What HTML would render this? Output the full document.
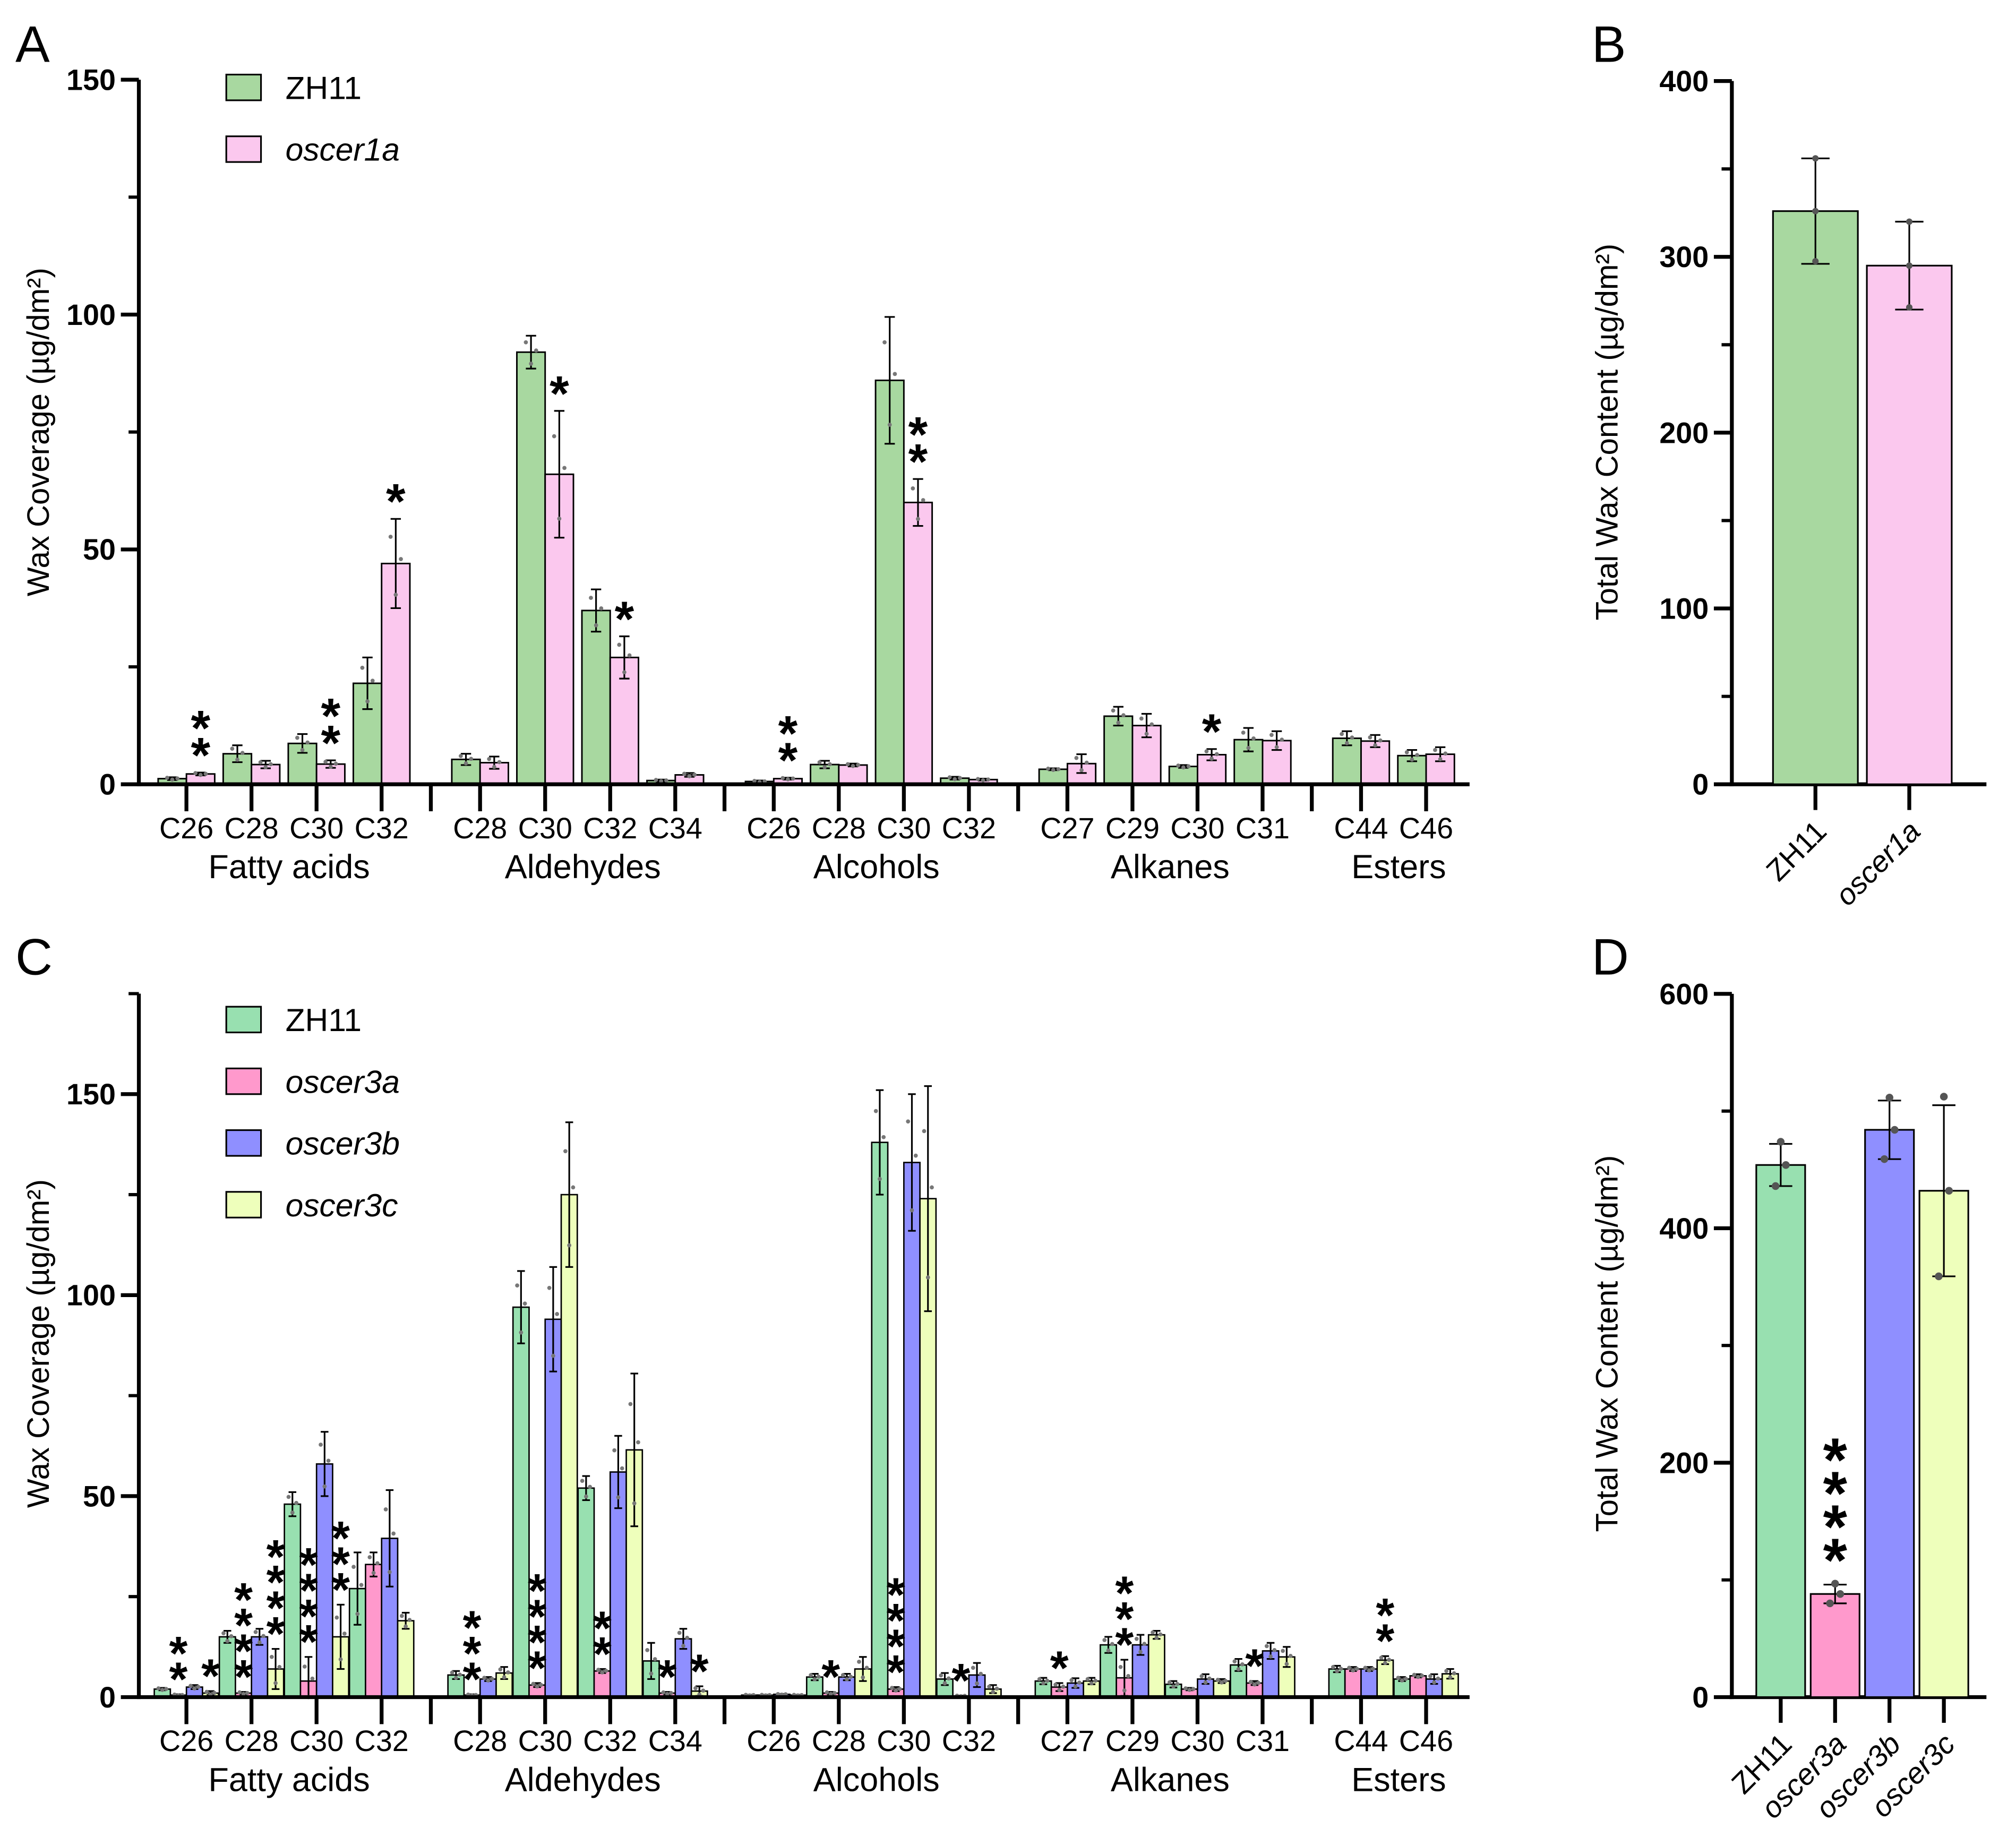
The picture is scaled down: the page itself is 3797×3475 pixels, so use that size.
<!DOCTYPE html>
<html><head><meta charset="utf-8"><style>
html,body{margin:0;padding:0;background:#fff}
svg{display:block}
text{font-family:"Liberation Sans",Arial,sans-serif;fill:#000}
</style></head><body>
<svg id="fig" width="3797" height="3475" viewBox="0 0 1568 1435" xmlns="http://www.w3.org/2000/svg">
<g id="root"></g>
</svg>
<script>
// ===== Data =====
const categories = ["C26","C28","C30","C32","C28","C30","C32","C34","C26","C28","C30","C32","C27","C29","C30","C31","C44","C46"];
const groupOf = [0,0,0,0,1,1,1,1,2,2,2,2,3,3,3,3,4,4];
const groupNames = ["Fatty acids","Aldehydes","Alcohols","Alkanes","Esters"];
// Panel A
const aZH11 = [1.2,6.5,8.7,21.5,5.3,92,37,0.8,0.6,4.2,86,1.3,3.2,14.5,3.8,9.5,9.8,6.1];
const aOscer1a = [2.2,4.2,4.3,47,4.6,66,27,2,1.2,4.1,60,1.0,4.4,12.5,6.3,9.3,9.2,6.4];
const aZH11Err = [0.3,1.8,2,5.5,1.2,3.5,4.5,0.2,0.2,0.8,13.5,0.3,0.2,2,0.3,2.5,1.5,1.2];
const aOscer1aErr = [0.3,0.8,0.8,9.5,1.3,13.5,4.5,0.4,0.2,0.3,5,0.2,2,2.5,1.2,2,1.3,1.5];
const aStarsPink = [2,0,2,1,0,1,1,0,2,0,2,0,0,0,1,0,0,0];
// Panel B
const bLabels = ["ZH11","oscer1a"];
const bValues = [326,295];
const bErr = [30,25];
// Panel C
const cZH11 = [2,15,48,27,5.5,97,52,9,0.5,5,138,4.5,4,13,3.2,8,7,4.5];
const cOscer3a = [0.5,1,4,33,0.5,3,6.5,1,0.5,1,2,0.3,2.5,4.8,2,3.5,7,5.3];
const cOscer3b = [2.5,15,58,39.5,4.5,94,56,14.5,0.7,5,133,5.5,3.5,13,4.5,11.5,7,4.5];
const cOscer3c = [1,7,15,19,6,125,61.5,1.5,0.5,7,124,2,4,15.5,4,10,9.2,5.8];
const cZH11Err = [0.3,1.5,3,9,1,9,3,4.5,0.1,0.8,13,1.5,0.8,2,0.8,1.5,0.8,0.5];
const cOscer3aErr = [0.2,0.3,6,3,0.2,0.5,0.5,0.3,0.1,0.3,0.5,0.1,1,4.5,0.3,0.5,0.5,0.4];
const cOscer3bErr = [0.5,2,8,12,0.5,13,9,2.5,0.1,0.8,17,3,1.2,2.5,1.2,2,0.5,1.2];
const cOscer3cErr = [0.5,5,8,2,1.5,18,19,1.2,0.1,3,28,1,0.8,1,0.5,2.5,1,1.2];
const cStarsPink = [2,4,4,0,3,4,2,1,0,1,4,1,1,3,0,1,0,0];
const cStarsYellow = [1,4,3,0,0,0,0,1,0,0,0,0,0,0,0,0,2,0];
// Panel D
const dLabels = ["ZH11","oscer3a","oscer3b","oscer3c"];
const dValues = [454,88,484,432];
const dErr = [18,8,25,73];
const dStars = [0,4,0,0];

// ===== helpers =====
const NS="http://www.w3.org/2000/svg";
const root=document.getElementById('root');
function el(tag,attrs,parent,txt){const e=document.createElementNS(NS,tag);for(const k in attrs)e.setAttribute(k,attrs[k]);if(txt!==undefined)e.textContent=txt;(parent||root).appendChild(e);return e;}
function grp(name){const g=el('g',{});


return g;}

function catX(i){return 145+i*50.6+groupOf[i]*26;}
function drawStars(g,x,yBottom,n,size){
  for(let k=0;k<n;k++){
    const t=el('text',{x:x,y:yBottom+size*0.75-k*size,'font-size':size*1.85,'font-weight':'bold','text-anchor':'middle'},g,'*');
    
    
  }
}
function errBar(g,x,y0,y1,cap){
  el('line',{x1:x,x2:x,y1:y0,y2:y1,stroke:'#000','stroke-width':1.3},g);
  el('line',{x1:x-cap,x2:x+cap,y1:y0,y2:y0,stroke:'#000','stroke-width':1.3},g);
  el('line',{x1:x-cap,x2:x+cap,y1:y1,y2:y1,stroke:'#000','stroke-width':1.3},g);
}
function dots(g,x,v,e,y,spread){
  [[-spread,v+e*0.6],[0,v-e*0.7],[spread,v+e*0.1]].forEach(p=>{
    if(p[1]<0)p[1]=0;
    el('circle',{cx:x+p[0],cy:y(p[1]),r:1.6,fill:'#777'},g);
  });
}
function yAxis(g,x,y,ticks,minor,title,tx,ty,yTopVal){
  el('line',{x1:x,x2:x,y1:y(yTopVal),y2:y(0)+1.5,stroke:'#000','stroke-width':3},g);
  ticks.forEach(t=>{
    el('line',{x1:x-14,x2:x,y1:y(t),y2:y(t),stroke:'#000','stroke-width':3},g);
    const lbl=el('text',{x:x-18,y:y(t)+8,'font-size':23,'font-weight':'bold','text-anchor':'end'},g,String(t));
    
    
  });
  minor.forEach(t=>el('line',{x1:x-8,x2:x,y1:y(t),y2:y(t),stroke:'#000','stroke-width':2.5},g));
  const tt=el('text',{x:tx,y:ty,'font-size':24,'text-anchor':'middle',transform:`rotate(-90 ${tx} ${ty})`},g,title);
  
  
}
function xCats(g,yBase){
  el('line',{x1:108,x2:1143,y1:yBase,y2:yBase,stroke:'#000','stroke-width':3},g);
  categories.forEach((c,i)=>{
    const x=catX(i);
    el('line',{x1:x,x2:x,y1:yBase,y2:yBase+21,stroke:'#000','stroke-width':3},g);
    const t=el('text',{x:x,y:yBase+42,'font-size':23,'text-anchor':'middle'},g,c);
    
    
  });
  for(let gi=0;gi<4;gi++){
    const last=groupOf.lastIndexOf(gi);
    const sx=(catX(last)+catX(last+1))/2;
    el('line',{x1:sx,x2:sx,y1:yBase,y2:yBase+21,stroke:'#000','stroke-width':3},g);
  }
  groupNames.forEach((n,gi)=>{
    const f=groupOf.indexOf(gi),l=groupOf.lastIndexOf(gi);
    const t=el('text',{x:(catX(f)+catX(l))/2+4,y:yBase+73,'font-size':26,'text-anchor':'middle'},g,n);
    
    
  });
}
function legend(g,items,x,y0,dy){
  items.forEach((it,k)=>{
    const y=y0+k*dy;
    const r=el('rect',{x:x,y:y-10,width:27,height:20,fill:it[1],stroke:'#000','stroke-width':1.3},g);
    
    
    const t=el('text',{x:x+46,y:y+9,'font-size':25,'font-style':it[2]?'italic':'normal'},g,it[0]);
    
    
  });
}
function letter(t,x,y){const e=el('text',{x:x,y:y,'font-size':40},root,t);

}

// ===== Panel A =====
(function(){
  const g=grp('panel-a');
  const y=v=>610-v*(548/150);
  yAxis(g,108,y,[0,50,100,150],[25,75,125],'Wax Coverage (µg/dm²)',38,336,150);
  const series=[[aZH11,aZH11Err,'#a8d8a0'],[aOscer1a,aOscer1aErr,'#fbc8ee']];
  categories.forEach((c,i)=>{
    series.forEach((s,k)=>{
      const x=catX(i)+(k===0?-22:0);
      const r=el('rect',{x:x,y:y(s[0][i]),width:22,height:y(0)-y(s[0][i]),fill:s[2],stroke:'#000','stroke-width':1.2},g);
      
      
      errBar(g,x+11,y(s[0][i]+s[1][i]),y(Math.max(0,s[0][i]-s[1][i])),4);
      dots(g,x+11,s[0][i],s[1][i],y,4);
    });
    if(aStarsPink[i])drawStars(g,catX(i)+11,y(aOscer1a[i]+aOscer1aErr[i])-16,aStarsPink[i],21);
  });
  xCats(g,610);
  legend(g,[['ZH11','#a8d8a0',false],['oscer1a','#fbc8ee',true]],176,68,48);
})();
letter('A',12,48);

// ===== Panel B =====
(function(){
  const g=grp('panel-b');
  const y=v=>610-v*(547/400);
  yAxis(g,1347,y,[0,100,200,300,400],[50,150,250,350],'Total Wax Content (µg/dm²)',1258,336,400);
  el('line',{x1:1345,x2:1545,y1:610,y2:610,stroke:'#000','stroke-width':3},g);
  const cols=['#a8d8a0','#fbc8ee'];
  bValues.forEach((v,i)=>{
    const cx=1412+i*73;
    const r=el('rect',{x:cx-33,y:y(v),width:66,height:y(0)-y(v),fill:cols[i],stroke:'#000','stroke-width':1.3},g);
    
    
    errBar(g,cx,y(v+bErr[i]),y(v-bErr[i]),11);
    [[0,v+bErr[i]],[0,v-bErr[i]*0.95],[0,v]].forEach(p=>el('circle',{cx:cx+p[0],cy:y(p[1]),r:2.5,fill:'#555'},g));
    el('line',{x1:cx,x2:cx,y1:610,y2:630,stroke:'#000','stroke-width':3},g);
    const t=el('text',{x:cx+10,y:648,'font-size':23,'text-anchor':'end','font-style':i?'italic':'normal',transform:`rotate(-45 ${cx+10} 648)`},g,bLabels[i]);
    
    
  });
})();
letter('B',1238,48);

// ===== Panel C =====
(function(){
  const g=grp('panel-c');
  const y=v=>1320-v*(469/150);
  yAxis(g,108,y,[0,50,100,150],[25,75,125,175],'Wax Coverage (µg/dm²)',38,1045,175);
  const series=[[cZH11,cZH11Err,'#98e0b0'],[cOscer3a,cOscer3aErr,'#ff99cc'],[cOscer3b,cOscer3bErr,'#8f8fff'],[cOscer3c,cOscer3cErr,'#eeffbb']];
  categories.forEach((c,i)=>{
    series.forEach((s,k)=>{
      const x=catX(i)-25+k*12.5;
      const r=el('rect',{x:x,y:y(s[0][i]),width:12.5,height:y(0)-y(s[0][i]),fill:s[2],stroke:'#000','stroke-width':1.1},g);
      
      
      errBar(g,x+6.25,y(s[0][i]+s[1][i]),y(Math.max(0,s[0][i]-s[1][i])),3);
      dots(g,x+6.25,s[0][i],s[1][i],y,3);
    });
    if(cStarsPink[i])drawStars(g,catX(i)-6.25,y(cOscer3a[i]+cOscer3aErr[i])-14,cStarsPink[i],20);
    if(cStarsYellow[i])drawStars(g,catX(i)+18.75,y(cOscer3c[i]+cOscer3cErr[i])-14,cStarsYellow[i],20);
  });
  xCats(g,1320);
  legend(g,[['ZH11','#98e0b0',false],['oscer3a','#ff99cc',true],['oscer3b','#8f8fff',true],['oscer3c','#eeffbb',true]],176,793,48);
})();
letter('C',12,758);

// ===== Panel D =====
(function(){
  const g=grp('panel-d');
  const y=v=>1320-v*(547/600);
  yAxis(g,1347,y,[0,200,400,600],[100,300,500],'Total Wax Content (µg/dm²)',1258,1045,600);
  el('line',{x1:1345,x2:1545,y1:1320,y2:1320,stroke:'#000','stroke-width':3},g);
  const cols=['#98e0b0','#ff99cc','#8f8fff','#eeffbb'];
  dValues.forEach((v,i)=>{
    const cx=1385+i*42.3;
    const r=el('rect',{x:cx-19,y:y(v),width:38,height:y(0)-y(v),fill:cols[i],stroke:'#000','stroke-width':1.3},g);
    
    
    errBar(g,cx,y(v+dErr[i]),y(v-dErr[i]),9);
    [[0,v+dErr[i]*1.1],[-4,v-dErr[i]],[4,v]].forEach(p=>el('circle',{cx:cx+p[0],cy:y(p[1]),r:3,fill:'#555'},g));
    if(dStars[i])drawStars(g,cx,y(v+dErr[i])-22,dStars[i],26);
    el('line',{x1:cx,x2:cx,y1:1320,y2:1340,stroke:'#000','stroke-width':3},g);
    const t=el('text',{x:cx+10,y:1358,'font-size':23,'text-anchor':'end','font-style':i?'italic':'normal',transform:`rotate(-45 ${cx+10} 1358)`},g,dLabels[i]);
    
    
  });
})();
letter('D',1238,758);
</script>
</body></html>
